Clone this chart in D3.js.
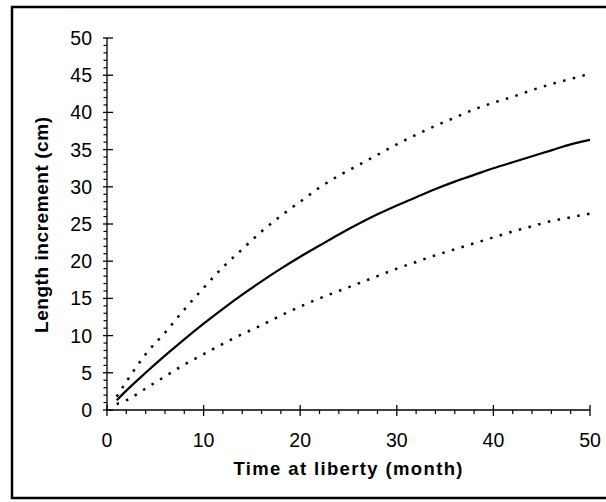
<!DOCTYPE html>
<html><head><meta charset="utf-8">
<script src="https://cdn.jsdelivr.net/npm/d3@7"></script>
<style>body{margin:0;background:#fff}svg{display:block}</style>
</head><body>
<svg id="c" width="606" height="502"></svg>
<script>
const months = [1,2,4,6,8,10,12,14,16,18,20,22,24,26,28,30,32,34,36,38,40,42,44,46,48,50];
const meanIncrement = [1.3,2.6,5.0,7.3,9.5,11.6,13.6,15.5,17.3,19.0,20.6,22.1,23.6,25.0,26.3,27.5,28.6,29.7,30.7,31.6,32.5,33.3,34.1,34.9,35.7,36.3];
const upperIncrement = [1.8,3.8,7.5,10.4,13.5,16.4,19.2,21.6,24.0,26.1,28.0,29.9,31.5,32.9,34.3,35.7,37.0,38.2,39.3,40.4,41.3,42.1,43.0,43.8,44.5,45.2];
const lowerIncrement = [0.8,1.3,2.9,4.5,6.1,7.5,8.9,10.2,11.4,12.7,13.9,15.0,16.0,17.0,18.0,19.0,19.9,20.8,21.6,22.4,23.2,24.0,24.7,25.4,25.9,26.4];
const xTicks = [0,10,20,30,40,50];
const yTicks = [0,5,10,15,20,25,30,35,40,45,50];
const xTitle = "Time at liberty (month)";
const yTitle = "Length increment (cm)";

const svg = d3.select("#c");
const x = d3.scaleLinear().domain([0,50]).range([107,590]);
const y = d3.scaleLinear().domain([0,50]).range([410,38]);

// outer frame
svg.append("rect").attr("x",12).attr("y",7).attr("width",610).attr("height",491)
  .attr("fill","none").attr("stroke","#000").attr("stroke-width",2.5);

const font = "'Liberation Sans', Arial, sans-serif";

// y axis
const yAxis = svg.append("g");
yAxis.append("line").attr("x1",x(0)).attr("x2",x(0)).attr("y1",y(50)).attr("y2",y(0))
  .attr("stroke","#000").attr("stroke-width",1.3);
const yMinor = d3.range(0,51,1).filter(v=>v%5!==0);
yAxis.selectAll(".ymin").data(yMinor).join("line")
  .attr("x1",x(0)-3.5).attr("x2",x(0)).attr("y1",d=>y(d)).attr("y2",d=>y(d))
  .attr("stroke","#000").attr("stroke-width",1.2);
yAxis.selectAll(".ymaj").data(yTicks).join("line")
  .attr("x1",x(0)-4).attr("x2",x(0)+6).attr("y1",d=>y(d)).attr("y2",d=>y(d))
  .attr("stroke","#000").attr("stroke-width",1.3);
yAxis.selectAll(".ylab").data(yTicks).join("text")
  .attr("x",92).attr("y",d=>y(d)+7).attr("text-anchor","end")
  .attr("font-family",font).attr("font-size",19.5).text(d=>d);

// x axis
const xAxis = svg.append("g");
xAxis.append("line").attr("x1",x(0)).attr("x2",x(50)).attr("y1",y(0)).attr("y2",y(0))
  .attr("stroke","#000").attr("stroke-width",1.3);
const xMinor = d3.range(0,51,2).filter(v=>v%10!==0);
xAxis.selectAll(".xmin").data(xMinor).join("line")
  .attr("x1",d=>x(d)).attr("x2",d=>x(d)).attr("y1",y(0)).attr("y2",y(0)+4)
  .attr("stroke","#000").attr("stroke-width",1.2);
xAxis.selectAll(".xmaj").data(xTicks).join("line")
  .attr("x1",d=>x(d)).attr("x2",d=>x(d)).attr("y1",y(0)-5).attr("y2",y(0)+6)
  .attr("stroke","#000").attr("stroke-width",1.3);
xAxis.selectAll(".xlab").data(xTicks).join("text")
  .attr("x",d=>x(d)).attr("y",447).attr("text-anchor","middle")
  .attr("font-family",font).attr("font-size",19.5).text(d=>d);

// titles
svg.append("text").attr("x",348).attr("y",475).attr("text-anchor","middle")
  .attr("font-family",font).attr("font-size",18.5).attr("font-weight","bold")
  .attr("textLength",229).attr("lengthAdjust","spacing").text(xTitle);
svg.append("text").attr("transform","translate(48,225) rotate(-90)").attr("text-anchor","middle")
  .attr("font-family",font).attr("font-size",19).attr("font-weight","bold")
  .attr("textLength",216).attr("lengthAdjust","spacing").text(yTitle);

// lines
const line = vals => d3.line().x((d,i)=>x(months[i])).y(d=>y(d)).curve(d3.curveMonotoneX)(vals);
svg.append("path").attr("d",line(upperIncrement)).attr("fill","none").attr("stroke","#000")
  .attr("stroke-width",2.5).attr("stroke-dasharray","2.5,7.5");
svg.append("path").attr("d",line(lowerIncrement)).attr("fill","none").attr("stroke","#000")
  .attr("stroke-width",2.5).attr("stroke-dasharray","2.5,7.5");
svg.append("path").attr("d",line(meanIncrement)).attr("fill","none").attr("stroke","#000")
  .attr("stroke-width",2.2);
</script>
</body></html>
